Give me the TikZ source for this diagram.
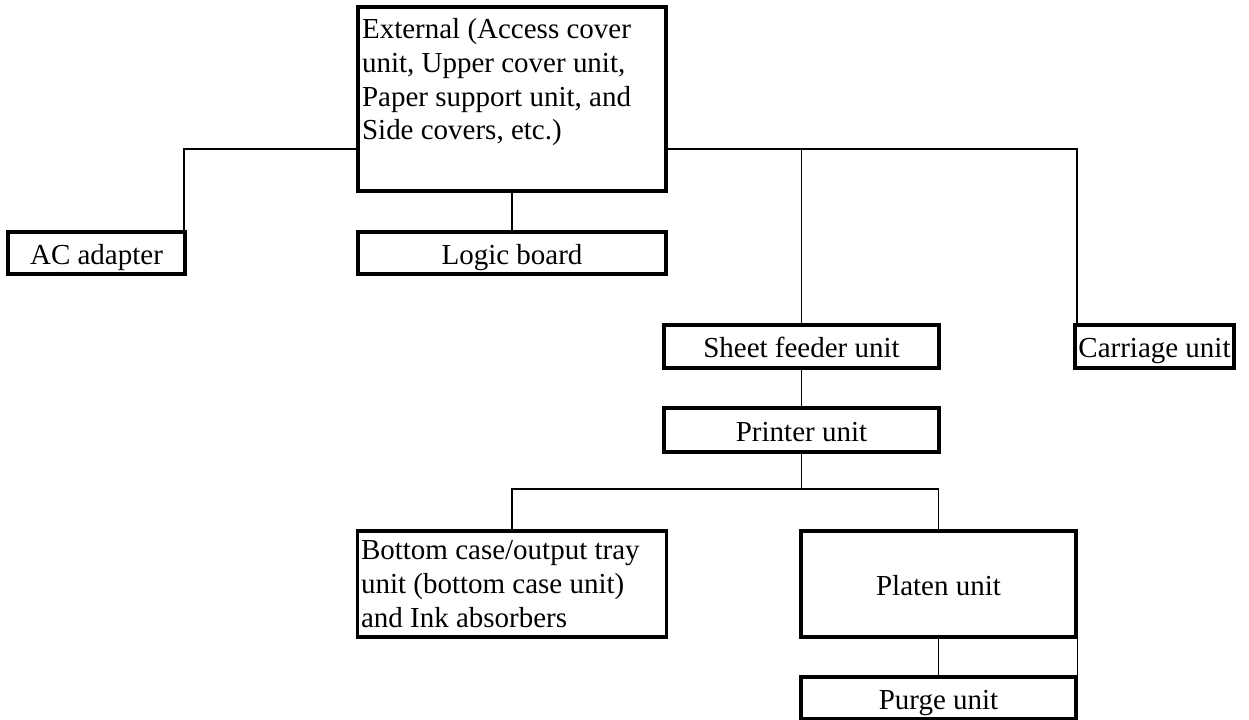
\documentclass[tikz,border=0pt]{standalone}
\usepackage{fontspec}
\setmainfont{Liberation Serif}
\usepackage{tikz}

\begin{document}
\begin{tikzpicture}[x=0.02cm,y=-0.02cm,
  unit/.style={draw,line width=1.8pt,inner sep=2pt,font=\fontsize{16.5}{19.3}\selectfont},
  oneline/.style={text height=12.6pt,text depth=0pt},
  wire/.style={line width=0.9pt}]
\useasboundingbox (0,0) rectangle (1249,720);
\node[unit,minimum width=6.16cm,minimum height=3.68cm] (ext) at (512,99) {};
\node[anchor=north west,align=left,inner xsep=3pt,inner ysep=7pt,font=\fontsize{16.5}{19.3}\selectfont] (exttxt) at (ext.north west) {External (Access cover\\unit, Upper cover unit,\\Paper support unit, and\\Side covers, etc.)};
\node[unit,oneline,minimum width=3.54cm,minimum height=0.84cm] (ac) at (96.5,253) {AC adapter};
\node[unit,oneline,minimum width=6.16cm,minimum height=0.84cm] (logic) at (512,253) {Logic board};
\node[unit,oneline,minimum width=5.5cm,minimum height=0.86cm] (sheet) at (801.5,346.5) {Sheet feeder unit};
\node[unit,oneline,minimum width=3.18cm,minimum height=0.86cm,inner xsep=1pt] (carr) at (1154.5,346.5) {Carriage unit};
\node[unit,oneline,minimum width=5.5cm,minimum height=0.88cm] (printer) at (801.5,430) {Printer unit};
\node[unit,minimum width=6.16cm,minimum height=2.12cm,text width=6.04cm,align=flush left] (bottom) at (512,584) {Bottom case/output tray\\unit (bottom case unit)\\and Ink absorbers};
\node[unit,oneline,minimum width=5.5cm,minimum height=2.12cm] (platen) at (938.5,584) {Platen unit};
\node[unit,oneline,minimum width=5.5cm,minimum height=0.84cm] (purge) at (938.5,698) {Purge unit};
\coordinate (topbus) at (0,149);
\coordinate (lowbus) at (0,489);
\draw[wire] (ext.west |- topbus) -| ([xshift=-1.5pt]ac.north east);
\draw[wire] (ext.east |- topbus) -| ([xshift=2pt]carr.north west);
\draw[wire] (sheet.north |- topbus) -- (sheet.north);
\draw[wire] (ext) -- (logic);
\draw[wire] (sheet) -- (printer);
\draw[wire] (printer.south) -- (printer.south |- lowbus);
\draw[wire] (bottom.north) |- (lowbus -| platen.north) -- (platen.north);
\draw[wire] (platen) -- (purge);
\draw[wire] (platen.south east) -- (purge.north east);
\end{tikzpicture}
\end{document}
